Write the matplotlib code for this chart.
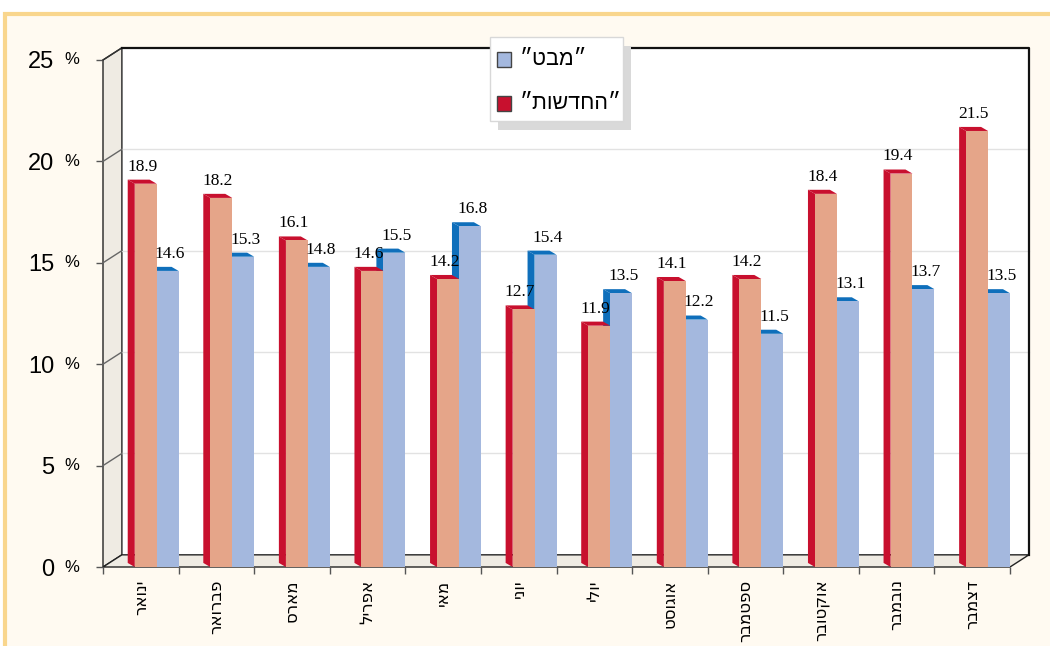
import matplotlib.pyplot as plt
from matplotlib.patches import Polygon, Rectangle

# data
months = ["ינואר", "פברואר", "מארס", "אפריל", "מאי", "יוני",
          "יולי", "אוגוסט", "ספטמבר", "אוקטובר", "נובמבר", "דצמבר"]
hadashot = [18.9, 18.2, 16.1, 14.6, 14.2, 12.7, 11.9, 14.1, 14.2, 18.4, 19.4, 21.5]
mabat = [14.6, 15.3, 14.8, 15.5, 16.8, 15.4, 13.5, 12.2, 11.5, 13.1, 13.7, 13.5]
series_names = ["״מבט״", "״החדשות״"]
yticks = [0, 5, 10, 15, 20, 25]

W, H = 1050, 646
RED_FRONT, RED_DARK = "#e5a589", "#c8102e"
BLUE_FRONT, BLUE_DARK = "#a4b8de", "#0f6fbb"
WALL = "#efebe3"

# 3D offsets (data units): wall depth and bar depth
DX, DY = 0.25, 0.6
BDX, BDY = 0.093, 0.2
BW = 0.29
SHIFT = 0.21


def rtl(s):
    return s[::-1]


def fig_xy(x, y):
    return x / W, 1 - y / H


fig = plt.figure(figsize=(10.5, 6.46), dpi=100)

# cream panel with yellow border
fig.patches.append(Rectangle(fig_xy(5, 1000), 2.0, (1000 - 14) / H,
                             transform=fig.transFigure, facecolor="#fffaf1",
                             edgecolor="#f9d68d", linewidth=3, zorder=-5))

ax = fig.add_axes([103 / W, (H - 567) / H, 907 / W, 507 / H])
ax.set_zorder(1)
ax.set_xlim(-0.5, 11.5)
ax.set_ylim(0, 25)
ax.patch.set_visible(False)
for s in ax.spines.values():
    s.set_visible(False)

x0, x1 = -0.5, 11.5
# back wall
ax.add_patch(Polygon([(x0 + DX, DY), (x1 + DX, DY), (x1 + DX, 25 + DY), (x0 + DX, 25 + DY)],
                     closed=True, facecolor="white", edgecolor="none", zorder=1, clip_on=False))
# left wall
ax.add_patch(Polygon([(x0, 0), (x0, 25), (x0 + DX, 25 + DY), (x0 + DX, DY)],
                     closed=True, facecolor=WALL, edgecolor="#222222", linewidth=1, zorder=1,
                     clip_on=False))
# floor
ax.add_patch(Polygon([(x0, 0), (x1, 0), (x1 + DX, DY), (x0 + DX, DY)],
                     closed=True, facecolor=WALL, edgecolor="#222222", linewidth=1, zorder=1,
                     clip_on=False))
for v in yticks[1:-1]:
    ax.plot([x0 + DX, x1 + DX], [v + DY, v + DY], color="#e2e2e2", lw=1, zorder=1.5, clip_on=False)
for v in yticks[1:]:
    ax.plot([x0, x0 + DX], [v, v + DY], color="#333333" if v == 25 else "#666666", lw=1,
            zorder=1.6, clip_on=False)
ax.plot([x0 + DX, x1 + DX, x1 + DX], [25 + DY, 25 + DY, DY], color="#111111", lw=1.6,
        zorder=1.6, clip_on=False)


def bar3d(xl, v, dark, z):
    xr = xl + BW
    ax.add_patch(Polygon([(xl, 0), (xl, v), (xl - BDX, v + BDY), (xl - BDX, BDY)],
                         closed=True, facecolor=dark, edgecolor="none", zorder=z, clip_on=False))
    ax.add_patch(Polygon([(xl, v), (xr, v), (xr - BDX, v + BDY), (xl - BDX, v + BDY)],
                         closed=True, facecolor=dark, edgecolor="none", zorder=z, clip_on=False))


# blue series first, red in front of it
for i, v in enumerate(mabat):
    bar3d(i + SHIFT, v, BLUE_DARK, 2)
ax.bar([i + SHIFT for i in range(12)], mabat, width=BW, align="edge",
       color=BLUE_FRONT, zorder=2.1)
for i, v in enumerate(hadashot):
    bar3d(i + SHIFT - BW, v, RED_DARK, 3)
ax.bar([i + SHIFT - BW for i in range(12)], hadashot, width=BW, align="edge",
       color=RED_FRONT, zorder=3.1)

for i, v in enumerate(hadashot):
    ax.text(i + SHIFT - BW / 2 - BDX / 2, v + BDY + 0.25, f"{v:.1f}", ha="center", va="bottom",
            fontsize=12.5, family="Liberation Serif", zorder=5)
for i, v in enumerate(mabat):
    ax.text(i + SHIFT + BW / 2 + 0.03, v + BDY + 0.25, f"{v:.1f}", ha="center", va="bottom",
            fontsize=12.5, family="Liberation Serif", zorder=5)

# axis ticks
ax.set_xticks(range(12), labels=[rtl(m) for m in months], rotation=90,
              family=["DejaVu Sans Condensed", "DejaVu Sans"], fontsize=12)
ax.set_xticks([i - 0.5 for i in range(13)], minor=True)
ax.tick_params(axis="x", which="major", length=0, pad=9)
ax.tick_params(axis="x", which="minor", length=5, color="#555555", width=1)
ax.set_yticks(yticks, labels=[str(v) for v in yticks], fontsize=17, family="Liberation Sans")
ax.tick_params(axis="y", length=5, color="#555555", width=1, pad=30)
for v in yticks:
    ax.text(-0.5 - 39 / 75.6, v, "%", ha="left", va="center", fontsize=12,
            family="Liberation Sans", clip_on=False)

# legend box, drawn by hand
fig.patches.append(Rectangle(fig_xy(498, 130), 133 / W, 84 / H, transform=fig.transFigure,
                             facecolor="#d9d9d9", edgecolor="none", zorder=4))
fig.patches.append(Rectangle(fig_xy(490, 121), 133 / W, 84 / H, transform=fig.transFigure,
                             facecolor="white", edgecolor="#d8d8d8", lw=1, zorder=5))
for (ytop, color, name) in [(52, BLUE_FRONT, series_names[0]), (96, RED_DARK, series_names[1])]:
    fig.patches.append(Rectangle(fig_xy(497, ytop + 15), 14 / W, 15 / H, transform=fig.transFigure,
                                 facecolor=color, edgecolor="#444444", lw=1, zorder=6))
    fig.text(*fig_xy(520, ytop + 7.5), rtl(name), ha="left", va="center", fontsize=15.5,
             family=["Liberation Sans", "DejaVu Sans"], zorder=6)

fig.savefig("out.png", dpi=100)
